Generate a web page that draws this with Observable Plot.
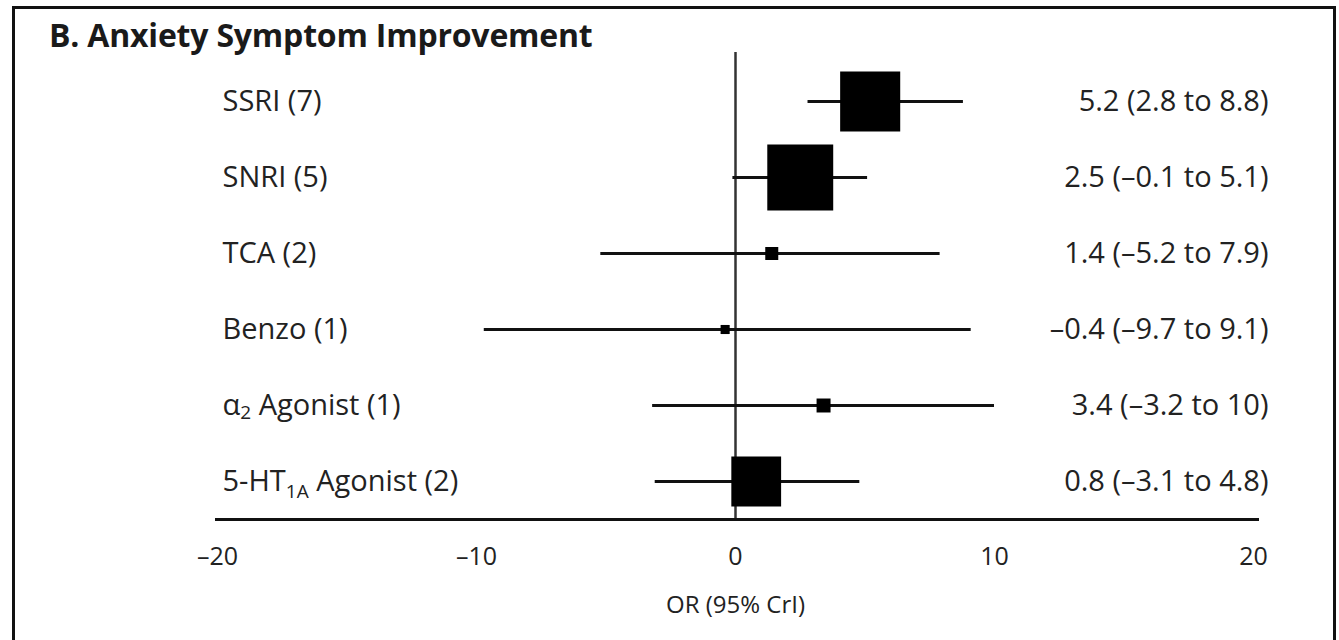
<!DOCTYPE html>
<html>
<head>
<meta charset="utf-8">
<script src="https://cdn.jsdelivr.net/npm/d3@7"></script>
<script src="https://cdn.jsdelivr.net/npm/@observablehq/plot@0.6"></script>
<style>
  html, body { margin: 0; padding: 0; background: #fff; }
  #wrap { position: relative; width: 1339px; height: 640px; overflow: hidden; background: #fff; }
  #border { position: absolute; left: 12px; top: 6px; width: 1318px; height: 700px; border: 3px solid #111; border-bottom: none; pointer-events: none; }
  #title { position: relative; height: 40px; }
  #title span { position: absolute; left: 49px; top: 19px; font-family: "Open Sans", sans-serif; font-weight: 700; font-size: 32px; line-height: 1; color: #1a1a1a; white-space: nowrap; letter-spacing: -0.2px; }
  #chart svg { display: block; }
</style>
</head>
<body>
<div id="wrap">
  <div id="title"><span>B. Anxiety Symptom Improvement</span></div>
  <div id="chart"></div>
  <div id="border"></div>
</div>
<script>
const drugs = ["SSRI (7)", "SNRI (5)", "TCA (2)", "Benzo (1)", "α2 Agonist (1)", "5-HT1A Agonist (2)"];
const estimate = [5.2, 2.5, 1.4, -0.4, 3.4, 0.8];
const lower = [2.8, -0.1, -5.2, -9.7, -3.2, -3.1];
const upper = [8.8, 5.1, 7.9, 9.1, 10, 4.8];
const weight = [83, 100, 3.9, 1.9, 4.5, 57];
const xTicks = [-20, -10, 0, 10, 20];
const axisLabel = "OR (95% CrI)";

const rows = drugs.map((d, i) => ({drug: d, est: estimate[i], lo: lower[i], hi: upper[i], w: weight[i]}));
const dash = v => v < 0 ? "–" + Math.abs(v) : String(v);

const plot = Plot.plot({
  width: 1339,
  height: 600,
  marginTop: 12,
  marginBottom: 121,
  marginLeft: 216,
  marginRight: 82,
  x: {domain: [-20, 20], range: [217, 1253]},
  y: {type: "point", domain: drugs, range: [59, 443], padding: 0, axis: null},
  r: {type: "sqrt", domain: [0, 100], range: [0, 37.2]},
  style: {fontFamily: "Open Sans, sans-serif", background: "transparent", color: "#222"},
  marks: [
    Plot.ruleX([0], {stroke: "#333", strokeWidth: 2.5}),
    Plot.frame({anchor: "bottom", stroke: "#111", strokeWidth: 3}),
    Plot.axisX({ticks: xTicks, tickFormat: dash, tickSize: 0, tickPadding: 28, fontSize: 25, fill: "#222", label: null}),
    Plot.ruleY(rows, {y: "drug", x1: "lo", x2: "hi", stroke: "#111", strokeWidth: 3}),
    Plot.dot(rows, {x: "est", y: "drug", r: "w", symbol: "square", fill: "#000", stroke: "none"}),
    Plot.text(rows, {y: "drug", text: "drug", frameAnchor: "left", textAnchor: "start", dx: 6, fontSize: 29, fill: "#222", letterSpacing: "-0.2px"}),
    Plot.text(rows, {y: "drug", text: d => `${dash(d.est)} (${dash(d.lo)} to ${dash(d.hi)})`, frameAnchor: "right", textAnchor: "end", dx: 11, fontSize: 29, fill: "#222"}),
    Plot.text([axisLabel], {x: 0, frameAnchor: "bottom", dy: 93, fontSize: 24, fill: "#222"})
  ]
});

// subscripts
d3.select(plot).selectAll("text").each(function () {
  const t = this.textContent;
  const parts = t === "α2 Agonist (1)" ? ["α", "2", " Agonist (1)", 4]
              : t === "5-HT1A Agonist (2)" ? ["5-HT", "1A", " Agonist (2)", 7] : null;
  if (!parts) return;
  const sel = d3.select(this);
  sel.text("");
  sel.append("tspan").text(parts[0]);
  sel.append("tspan").attr("dy", parts[3]).attr("font-size", 19).text(parts[1]);
  sel.append("tspan").attr("dy", -parts[3]).text(parts[2]);
});

document.getElementById("chart").append(plot);
</script>
</body>
</html>
